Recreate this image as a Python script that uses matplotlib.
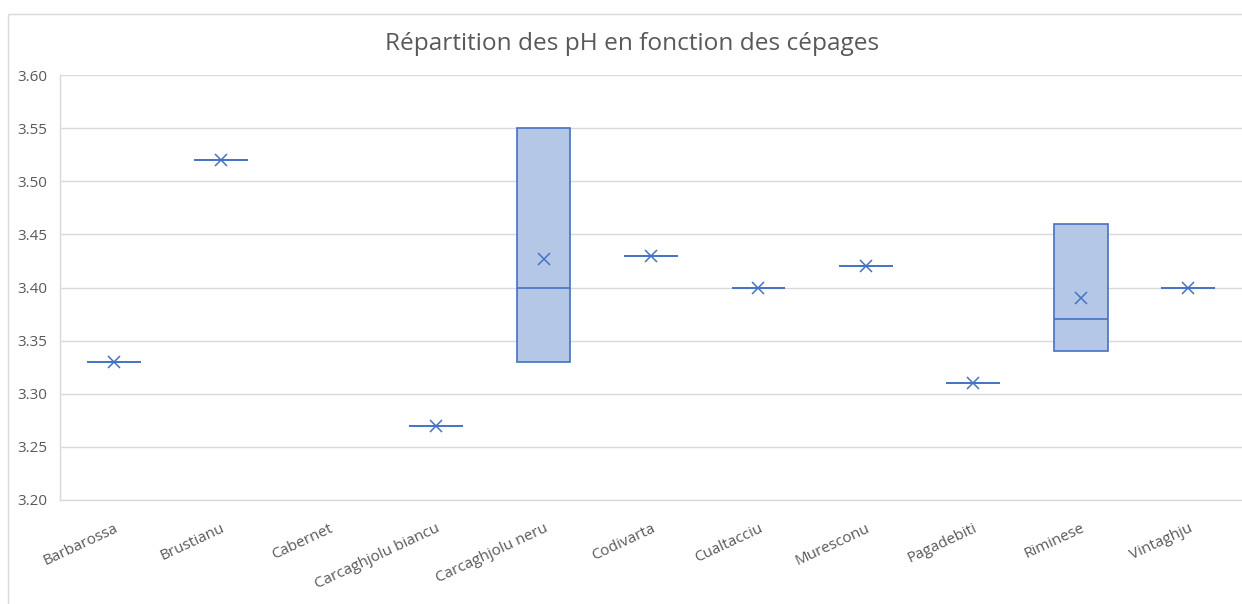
import numpy as np
import matplotlib.pyplot as plt
from matplotlib.patches import Rectangle

plt.rcParams['font.family'] = ['Open Sans', 'DejaVu Sans']

# pH values per grape variety (Cabernet has no value)
cepages = ['Barbarossa', 'Brustianu', 'Cabernet', 'Carcaghjolu biancu',
           'Carcaghjolu neru', 'Codivarta', 'Cualtacciu', 'Muresconu',
           'Pagadebiti', 'Riminese', 'Vintaghju']
ph_values = [
    [3.33],
    [3.52],
    [],
    [3.27],
    [3.33, 3.40, 3.55],
    [3.43],
    [3.40],
    [3.42],
    [3.31],
    [3.34, 3.37, 3.46],
    [3.40],
]
y_ticks = [3.20, 3.25, 3.30, 3.35, 3.40, 3.45, 3.50, 3.55, 3.60]

blue = '#4472C4'
fill = '#B4C7E7'
grey_text = '#595959'
grid_col = '#D9D9D9'

# box stats like Excel (exclusive quartiles)
stats, positions = [], []
for i, vals in enumerate(ph_values):
    if not vals:
        continue
    v = np.array(vals)
    q1, med, q3 = np.percentile(v, [25, 50, 75], method='weibull')
    stats.append(dict(med=med, q1=q1, q3=q3, whislo=v.min(), whishi=v.max(),
                      mean=v.mean(), fliers=[]))
    positions.append(i)

fig = plt.figure(figsize=(12.42, 6.04), dpi=100)
ax = fig.add_axes([0.0483, 0.1722, 0.9517, 0.7036])

ax.bxp(stats, positions=positions, widths=0.5, patch_artist=True,
       showmeans=True, showcaps=False, showfliers=False,
       boxprops=dict(facecolor=fill, edgecolor=blue, linewidth=1.2),
       medianprops=dict(color=blue, linewidth=1.2),
       whiskerprops=dict(color=blue, linewidth=1.2),
       meanprops=dict(marker='x', markeredgecolor=blue, markersize=9,
                      markeredgewidth=1.1))

ax.set_xlim(-0.5, len(cepages) - 0.5)
ax.set_ylim(3.20, 3.60)
ax.set_yticks(y_ticks)
ax.set_yticklabels([f'{t:.2f}' for t in y_ticks])
ax.set_xticks(range(len(cepages)))
ax.set_xticklabels(cepages, rotation=25, ha='right', rotation_mode='anchor')
ax.tick_params(axis='both', length=0, colors=grey_text, labelsize=11)
ax.tick_params(axis='y', pad=9)
ax.tick_params(axis='x', pad=15)

ax.grid(axis='y', color=grid_col, linewidth=1)
ax.set_axisbelow(True)
for s in ['top', 'right']:
    ax.spines[s].set_visible(False)
for s in ['left', 'bottom']:
    ax.spines[s].set_color(grid_col)
    ax.spines[s].set_linewidth(1)

fig.text(0.509, 0.927, 'Répartition des pH en fonction des cépages',
         ha='center', va='center', fontsize=17.6, color=grey_text)

# chart outer border (only left and top visible)
fig.patches.append(Rectangle((8 / 1242, -0.2), 1.2, 1.2 - 14 / 604,
                             transform=fig.transFigure, fill=False,
                             edgecolor=grid_col, linewidth=1))

fig.savefig('out.png', dpi=100)
